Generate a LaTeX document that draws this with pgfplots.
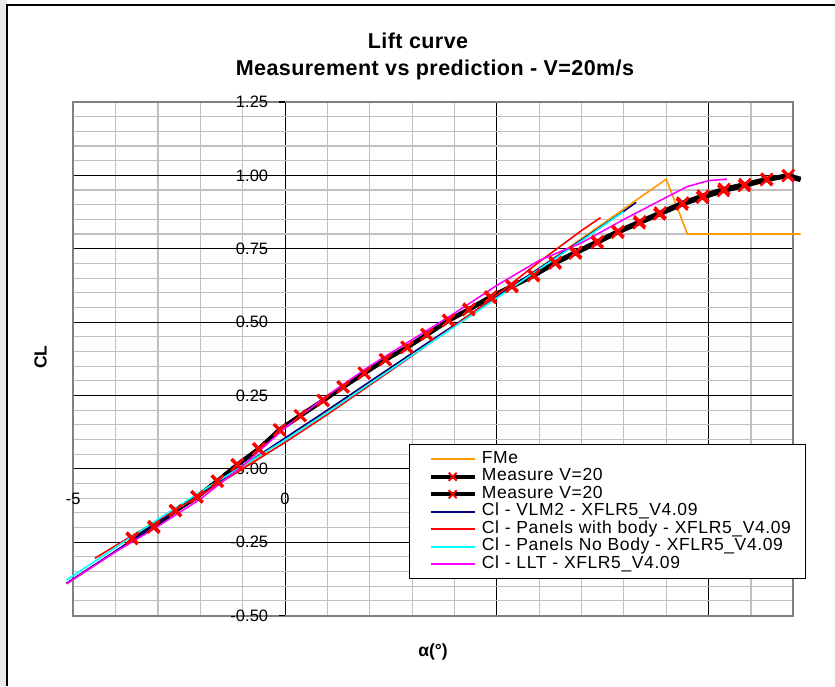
\documentclass[border=0pt]{standalone}
\usepackage{pgfplots}
\pgfplotsset{compat=1.18}
\usepackage{fontspec}
\setmainfont{Liberation Sans}
\definecolor{fmeorange}{RGB}{255,153,0}
\definecolor{vlmnavy}{RGB}{0,0,128}
\definecolor{pred}{RGB}{255,0,0}
\definecolor{pcyan}{RGB}{0,255,255}
\definecolor{pmag}{RGB}{255,0,255}
\definecolor{gridgray}{RGB}{192,192,192}
\definecolor{bordergray}{RGB}{128,128,128}
\begin{document}
\begin{tikzpicture}[x=1pt,y=1pt]
\useasboundingbox (0,0) rectangle (835,686);
\fill[black!8] (0,0) rectangle (7,686);
\draw[black, line width=1.5pt] (7,0) -- (7,681) -- (835,681);
\node[font=\bfseries\fontsize{21.5}{21.5}\selectfont\addfontfeatures{LetterSpace=2}, anchor=base] at (418,637) {Lift curve};
\node[font=\bfseries\fontsize{21.5}{21.5}\selectfont\addfontfeatures{LetterSpace=2}, anchor=base] at (435,610) {Measurement vs prediction - V=20m/s};
\node[font=\bfseries\fontsize{17.5}{17.5}\selectfont, rotate=90] at (40.7,329) {CL};
\node[font=\bfseries\fontsize{17.5}{17.5}\selectfont] at (433,34) {α(°)};
\begin{axis}[
  at={(73.3pt,70.5pt)}, anchor=south west,
  width=720pt, height=513.5pt, scale only axis,
  xmin=-5, xmax=12, ymin=-0.5, ymax=1.25,
  clip=false,
  xtick={-5,0,5,10}, xticklabels={-5,0,{},{}},
  ytick={-0.5,-0.25,0,0.25,0.5,0.75,1,1.25},
  yticklabels={-0.50,-0.25,0.00,0.25,0.50,0.75,1.00,1.25},
  minor xtick={-4,-3,-2,-1,1,2,3,4,6,7,8,9,11},
  minor ytick={-0.45,-0.4,-0.35,-0.3,-0.2,-0.15,-0.1,-0.05,0.05,0.1,0.15,0.2,0.3,0.35,0.4,0.45,0.55,0.6,0.65,0.7,0.8,0.85,0.9,0.95,1.05,1.1,1.15,1.2},
  grid=both,
  major grid style={black, line width=1.1pt},
  minor grid style={gridgray, line width=1.1pt},
  major tick length=0pt, minor tick length=0pt,
  axis line style={bordergray, line width=2pt},
  tick label style={font=\fontsize{16.5}{16.5}\selectfont, inner sep=0pt},
  xticklabel style={anchor=center, yshift=116.5pt},
  yticklabel style={anchor=east, xshift=195pt},
  legend cell align=left,
  legend style={at={(0.4663,0.334)}, anchor=north west, draw=black, line width=1pt, fill=white,
     inner xsep=0pt, inner ysep=6pt, row sep=0pt, column sep=5pt,
     font=\fontsize{17.5}{17.5}\selectfont\addfontfeatures{LetterSpace=3.5},
     nodes={inner sep=0pt, text height=12.7pt, text depth=4.8pt, text width=324pt}},
  legend image code/.code={\path (0pt,0pt) (63pt,0pt);
     \draw[mark repeat=2,mark phase=2,#1] plot coordinates {(19pt,0pt) (41pt,0pt) (63pt,0pt)};},
]
% FMe
\addplot[fmeorange, line width=1.6pt, mark=none] coordinates {
(-5.16,-0.392) (-4,-0.282) (-3,-0.186) (-2,-0.090) (-1,0.005) (0,0.100) (1,0.195) (2,0.292) (3,0.389) (4,0.486) (5,0.584) (6,0.684) (7,0.784) (8,0.886) (9,0.987) (9.5,0.800) (12.17,0.800)};
\addlegendentry{FMe}
% Measure 1 line
\addplot[black, line width=4.3pt, mark=none,
  legend image code/.code={\path (0pt,0pt) (63pt,0pt);
    \draw[black, line width=4pt] (19pt,0pt) -- (63pt,0pt);
    \draw[red, line width=2pt] (37pt,-4pt) -- (45pt,4pt) (37pt,4pt) -- (45pt,-4pt);}] coordinates {
(-3.62,-0.239) (-3.11,-0.200) (-2.60,-0.144) (-2.09,-0.097) (-1.61,-0.044) (-1.14,0.012) (-0.63,0.066) (-0.14,0.132) (0.35,0.180) (0.89,0.232) (1.36,0.278) (1.86,0.325) (2.36,0.371) (2.87,0.413) (3.34,0.456) (3.85,0.504) (4.33,0.541) (4.84,0.583) (5.35,0.620) (5.86,0.657) (6.37,0.700) (6.85,0.734) (7.36,0.770) (7.85,0.805) (8.36,0.837) (8.84,0.867) (9.37,0.901) (9.85,0.924) (10.35,0.947) (10.84,0.964) (11.36,0.984) (11.87,0.998) (12.17,0.984)};
\addlegendentry{Measure V=20}
% Measure 2 line
\addplot[black, line width=4.3pt, mark=none,
  legend image code/.code={\path (0pt,0pt) (63pt,0pt);
    \draw[black, line width=4pt] (19pt,0pt) -- (63pt,0pt);
    \draw[red, line width=2pt] (37pt,-4pt) -- (45pt,4pt) (37pt,4pt) -- (45pt,-4pt);}] coordinates {
(-3.60,-0.235) (-3.09,-0.196) (-2.58,-0.141) (-2.07,-0.094) (-1.59,-0.041) (-1.12,0.015) (-0.61,0.069) (-0.12,0.134) (0.37,0.182) (0.91,0.234) (1.38,0.280) (1.88,0.327) (2.38,0.373) (2.89,0.415) (3.36,0.459) (3.87,0.507) (4.35,0.545) (4.86,0.587) (5.37,0.624) (5.88,0.661) (6.39,0.704) (6.87,0.739) (7.38,0.775) (7.87,0.810) (8.38,0.843) (8.86,0.873) (9.39,0.907) (9.87,0.931) (10.37,0.954) (10.86,0.970) (11.38,0.988) (11.89,1.000) (12.17,0.988)};
\addlegendentry{Measure V=20}
% Measure markers
\addplot[only marks, forget plot, mark=x, mark size=8pt, mark options={red, line width=2.3pt}] coordinates {
(-3.62,-0.239) (-3.11,-0.200) (-2.60,-0.144) (-2.09,-0.097) (-1.61,-0.044) (-1.14,0.012) (-0.63,0.066) (-0.14,0.132) (0.35,0.180) (0.89,0.232) (1.36,0.278) (1.86,0.325) (2.36,0.371) (2.87,0.413) (3.34,0.456) (3.85,0.504) (4.33,0.541) (4.84,0.583) (5.35,0.620) (5.86,0.657) (6.37,0.700) (6.85,0.734) (7.36,0.770) (7.85,0.805) (8.36,0.837) (8.84,0.867) (9.37,0.901) (9.85,0.924) (10.35,0.947) (10.84,0.964) (11.36,0.984) (11.87,0.998)};
\addplot[only marks, forget plot, mark=x, mark size=8pt, mark options={red, line width=2.3pt}] coordinates {
(-3.60,-0.235) (-3.09,-0.196) (-2.58,-0.141) (-2.07,-0.094) (-1.59,-0.041) (-1.12,0.015) (-0.61,0.069) (-0.12,0.134) (0.37,0.182) (0.91,0.234) (1.38,0.280) (1.88,0.327) (2.38,0.373) (2.89,0.415) (3.36,0.459) (3.87,0.507) (4.35,0.545) (4.86,0.587) (5.37,0.624) (5.88,0.661) (6.39,0.704) (6.87,0.739) (7.38,0.775) (7.87,0.810) (8.38,0.843) (8.86,0.873) (9.39,0.907) (9.87,0.931) (10.37,0.954) (10.86,0.970) (11.38,0.988) (11.89,1.000)};
% VLM2
\addplot[vlmnavy, line width=1.6pt, mark=none] coordinates {
(-5.16,-0.390) (-4,-0.280) (-3,-0.183) (-2,-0.087) (-1,0.010) (0,0.105) (1,0.200) (2,0.297) (3,0.394) (4,0.490) (5,0.587) (6,0.683) (7,0.780) (8,0.878) (8.29,0.908)};
\addlegendentry{Cl - VLM2 - XFLR5\_V4.09}
% Panels with body
\addplot[pred, line width=1.6pt, mark=none] coordinates {
(-4.49,-0.305) (-4,-0.262) (-3,-0.175) (-2,-0.090) (-1,0.000) (0,0.090) (1,0.185) (2,0.285) (3,0.385) (4,0.487) (5,0.592) (6,0.705) (7,0.812) (7.45,0.856)};
\addlegendentry{Cl - Panels with body - XFLR5\_V4.09}
% Panels no body
\addplot[pcyan, line width=1.6pt, mark=none] coordinates {
(-5.16,-0.379) (-4,-0.268) (-3,-0.172) (-2,-0.079) (-1,0.010) (0,0.098) (1,0.192) (2,0.290) (3,0.387) (4,0.484) (5,0.582) (6,0.680) (7,0.777) (7.99,0.876)};
\addlegendentry{Cl - Panels No Body - XFLR5\_V4.09}
% LLT
\addplot[pmag, line width=1.6pt, mark=none] coordinates {
(-5.16,-0.392) (-4,-0.283) (-3,-0.196) (-2,-0.103) (-1,0.010) (0,0.140) (1,0.250) (2,0.350) (3,0.440) (4,0.530) (5,0.625) (6,0.710) (7,0.770) (8,0.850) (9,0.925) (9.5,0.962) (10,0.982) (10.43,0.987)};
\addlegendentry{Cl - LLT - XFLR5\_V4.09}
\pgfplotsinvokeforeach{-0.5,-0.25,0,0.25,0.5,0.75,1,1.25}{
  \draw[black, line width=1.1pt] (axis cs:0,#1) -- ++(-6pt,0pt);
}
\end{axis}
\end{tikzpicture}
\end{document}
